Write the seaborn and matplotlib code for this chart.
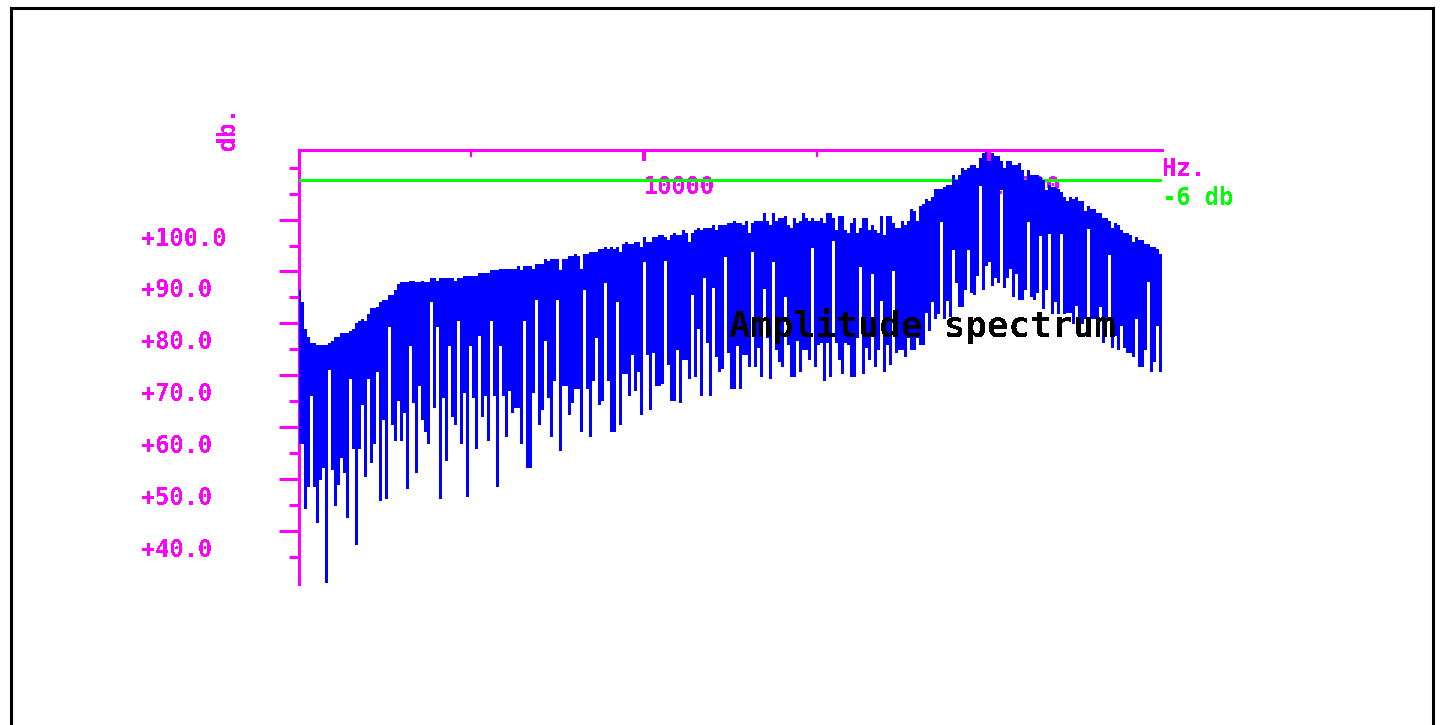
import numpy as np
import matplotlib
matplotlib.use("Agg")
import matplotlib.pyplot as plt
import matplotlib.transforms as mtransforms
from matplotlib.lines import Line2D
import seaborn as sns

# Amplitude spectrum, 0 .. 25 kHz in 288 bins: highest and lowest level (dB) in each bin
peak_db = [
    86.5, 84.2, 79.0, 77.3, 76.3, 76.3, 75.9, 75.9, 75.9, 75.9, 76.3, 76.7,
    77.3, 77.3, 78.2, 78.2, 78.2, 78.6, 79.0, 80.0, 80.5, 80.9, 80.5, 81.9,
    82.9, 82.9, 83.2, 84.2, 84.6, 84.6, 85.5, 85.5, 86.5, 87.5, 87.9, 87.9,
    87.9, 88.2, 88.2, 87.9, 87.9, 88.2, 87.9, 87.9, 88.8, 88.8, 88.2, 88.8,
    88.8, 88.8, 88.8, 88.8, 88.2, 88.8, 88.8, 89.2, 89.2, 89.2, 89.2, 89.2,
    89.8, 89.8, 89.8, 89.8, 90.2, 90.2, 90.2, 90.5, 90.5, 90.5, 90.5, 90.5,
    90.5, 91.1, 90.2, 91.1, 91.1, 91.1, 90.5, 91.5, 91.5, 91.5, 92.5, 92.1,
    92.5, 92.5, 92.5, 90.2, 92.5, 92.5, 92.9, 92.9, 93.4, 92.9, 90.5, 93.4,
    93.4, 93.8, 93.8, 93.8, 94.4, 94.4, 94.8, 94.4, 94.8, 94.4, 94.8, 93.8,
    95.2, 95.7, 95.2, 95.2, 95.7, 95.7, 94.8, 96.7, 95.7, 95.7, 96.7, 96.7,
    97.1, 97.1, 96.7, 96.1, 97.1, 97.5, 97.1, 97.1, 98.0, 97.5, 95.7, 97.5,
    98.0, 98.4, 98.0, 98.4, 98.4, 98.4, 99.0, 98.0, 99.0, 99.0, 99.0, 99.4,
    99.4, 99.8, 99.4, 99.4, 99.0, 99.8, 97.5, 99.4, 99.8, 99.8, 99.8, 101.3,
    99.8, 99.0, 101.3, 99.8, 100.4, 100.4, 100.7, 99.0, 98.4, 100.4, 99.4, 99.8,
    101.3, 100.4, 99.8, 100.4, 99.8, 99.8, 100.4, 99.4, 101.3, 101.3, 100.4, 98.0,
    100.7, 100.7, 98.0, 97.5, 99.4, 100.4, 97.5, 98.4, 100.4, 100.4, 98.0, 99.0,
    98.0, 97.5, 100.7, 97.1, 100.7, 100.7, 99.4, 98.4, 98.4, 99.8, 99.0, 99.8,
    102.1, 101.7, 99.8, 102.7, 103.0, 104.0, 103.6, 104.4, 105.9, 105.9, 105.9, 106.3,
    106.7, 106.7, 108.6, 107.7, 108.6, 110.0, 109.6, 110.0, 110.5, 110.5, 110.0, 111.9,
    112.9, 113.0, 113.6, 112.9, 112.3, 112.3, 111.3, 110.0, 111.3, 111.3, 110.5, 110.5,
    110.9, 109.6, 107.7, 109.6, 108.6, 108.6, 108.6, 108.2, 107.7, 105.7, 106.7, 106.3,
    106.3, 105.9, 105.4, 104.4, 103.6, 104.4, 104.0, 104.4, 103.6, 103.6, 101.7, 102.7,
    102.1, 102.1, 101.3, 101.3, 100.4, 100.4, 99.8, 98.4, 99.4, 99.0, 98.0, 97.5,
    97.5, 97.1, 95.7, 96.7, 96.1, 96.1, 95.2, 95.2, 94.8, 94.8, 94.4, 93.4,
]

floor_db = [
    56.8, 56.8, 44.3, 48.5, 66.0, 48.5, 41.6, 49.9, 52.1, 30.0, 71.1, 51.8,
    44.8, 48.9, 54.1, 51.2, 42.5, 69.3, 55.9, 37.3, 55.9, 64.3, 50.4, 69.3,
    53.1, 56.8, 70.6, 45.8, 61.4, 46.2, 79.4, 60.4, 57.3, 65.0, 57.3, 62.7,
    48.1, 75.7, 64.6, 51.2, 67.9, 61.4, 59.1, 56.8, 84.1, 63.7, 79.4, 46.2,
    65.6, 53.5, 75.7, 62.0, 60.4, 80.4, 56.8, 66.6, 46.6, 75.7, 65.6, 55.8,
    77.5, 62.0, 66.0, 57.3, 80.4, 66.0, 48.5, 75.7, 66.0, 58.1, 67.0, 62.7,
    63.7, 63.7, 56.8, 80.4, 52.1, 52.1, 66.6, 84.5, 60.4, 63.3, 76.6, 65.6,
    58.1, 68.9, 84.5, 55.4, 67.9, 67.9, 62.3, 64.6, 67.3, 67.3, 59.1, 86.4,
    67.3, 58.1, 68.9, 77.1, 64.3, 65.0, 87.7, 68.9, 59.1, 59.1, 84.1, 60.4,
    70.2, 70.2, 66.0, 73.9, 67.0, 70.6, 62.3, 91.9, 73.9, 63.3, 74.3, 67.9,
    67.9, 68.3, 92.0, 72.0, 65.0, 65.0, 74.8, 64.6, 72.9, 72.9, 69.3, 85.4,
    69.6, 78.9, 66.0, 88.7, 76.2, 66.0, 86.8, 73.5, 70.6, 71.2, 92.7, 74.3,
    67.3, 67.3, 75.7, 67.3, 73.9, 73.9, 71.6, 93.7, 71.6, 75.2, 69.6, 86.7,
    77.1, 69.3, 91.9, 74.8, 72.5, 71.6, 85.0, 75.8, 69.6, 69.6, 76.6, 70.6,
    74.8, 74.8, 72.9, 94.6, 71.6, 75.8, 76.2, 68.9, 76.2, 69.6, 95.9, 76.2,
    72.9, 70.2, 76.2, 75.8, 69.6, 69.6, 77.1, 90.9, 70.2, 75.2, 72.9, 89.6,
    71.6, 74.8, 84.4, 70.6, 75.8, 72.0, 90.0, 74.3, 74.8, 74.8, 73.5, 77.1,
    74.8, 74.8, 77.1, 75.8, 75.8, 82.1, 78.5, 84.1, 80.8, 81.8, 99.6, 80.8,
    84.4, 81.2, 94.2, 87.7, 83.1, 83.1, 86.4, 94.2, 85.8, 85.4, 89.1, 106.5,
    86.4, 91.0, 91.9, 87.3, 88.7, 87.7, 105.7, 86.8, 88.7, 90.4, 85.0, 89.6,
    84.5, 84.5, 86.4, 99.6, 85.0, 84.5, 85.8, 96.9, 82.7, 86.4, 97.3, 81.8,
    84.1, 81.8, 97.3, 81.8, 82.1, 82.1, 79.8, 83.3, 79.8, 79.8, 80.8, 98.2,
    80.8, 80.8, 79.8, 83.1, 76.2, 80.8, 93.2, 75.2, 77.5, 74.8, 79.5, 75.2,
    74.3, 74.3, 73.5, 80.8, 71.6, 71.6, 74.8, 88.0, 70.6, 72.5, 79.5, 70.6,
]

f_max_hz = 25000
y_range_db = (29.8, 113.5)
major_db = [40, 50, 60, 70, 80, 90, 100]
minor_db = [35, 45, 55, 65, 75, 85, 95, 105, 110]
x_major_hz = [10000, 20000]
x_minor_hz = [5000, 15000]
x_labels = ["10000", "20000"]
drop_db = 6

MAGENTA = "#ff00ff"
GREEN = "#00ff00"
BLUE = "#0000ff"

sns.set_theme(style="white")
plt.rcParams["font.family"] = ["DejaVu Sans Mono", "DejaVu Sans"]
plt.rcParams["text.antialiased"] = False

W, H = 1443, 725
fig = plt.figure(figsize=(W / 100, H / 100), dpi=100)
fig.patch.set_facecolor("white")

def px(x, y):
    return x / W, 1 - y / H

ax = fig.add_axes([298.5 / W, 1 - 584 / H, (1162 - 298.5) / W, (584 - 149.5) / H])
ax.set_facecolor("white")

n = len(peak_db)
bin_hz = f_max_hz / n
centers = (np.arange(n) + 0.5) * bin_hz
peak = np.asarray(peak_db)
floor = np.asarray(floor_db)

# -6 dB reference below the spectral maximum
ref_db = peak.max() - drop_db
sns.lineplot(x=[0, f_max_hz], y=[ref_db, ref_db], color=GREEN, linewidth=2.2,
             ax=ax, zorder=2, legend=False)

# spectrum bars span from the lowest to the highest level in each bin
ax.bar(centers, peak - floor, bottom=floor, width=bin_hz, color=BLUE,
       linewidth=0, zorder=3, antialiased=False)

ax.set_xlim(0, f_max_hz)
ax.set_ylim(*y_range_db)

for s in ["right", "bottom"]:
    ax.spines[s].set_visible(False)
for s in ["left", "top"]:
    ax.spines[s].set_color(MAGENTA)
    ax.spines[s].set_linewidth(2.2)
    ax.spines[s].set_zorder(1)

ax.xaxis.tick_top()
ax.set_xticks(x_major_hz)
ax.set_xticks(x_minor_hz, minor=True)
ax.tick_params(axis="x", which="major", direction="in", length=8, width=2.9,
               color=MAGENTA, top=True, bottom=False, labeltop=False, labelbottom=False)
ax.tick_params(axis="x", which="minor", direction="in", length=5, width=1.6,
               color=MAGENTA, top=True, bottom=False)
ax.xaxis.set_zorder(4)

ax.set_yticks(major_db)
ax.set_yticks(minor_db, minor=True)
ax.tick_params(axis="y", which="major", direction="out", length=14.4, width=2.2,
               color=MAGENTA, left=True, labelleft=False)
ax.tick_params(axis="y", which="minor", direction="out", length=7.2, width=2.2,
               color=MAGENTA, left=True)
ax.grid(False)

label_kw = dict(fontsize=17, fontweight="bold")

# y labels hang just below their tick, left aligned in a column
ylab_tr = (mtransforms.blended_transform_factory(fig.transFigure, ax.transData)
           + mtransforms.ScaledTranslation(0, -26 / 100, fig.dpi_scale_trans))
for v in major_db:
    ax.text(141 / W, v, f"{v:+.1f}", transform=ylab_tr, ha="left", va="baseline",
            color=MAGENTA, clip_on=False, **label_kw)

# x labels start at their tick, below the top axis line
xlab_tr = (mtransforms.blended_transform_factory(ax.transData, ax.transAxes)
           + mtransforms.ScaledTranslation(0, -44 / 100, fig.dpi_scale_trans))
for v, s in zip(x_major_hz, x_labels):
    ax.text(v, 1, s, transform=xlab_tr, ha="left", va="baseline",
            color=MAGENTA, zorder=1, **label_kw)

unit_tr = (mtransforms.blended_transform_factory(ax.transAxes, ax.transAxes)
           + mtransforms.ScaledTranslation(0, -26 / 100, fig.dpi_scale_trans))
ax.text(1.0, 1.0, "Hz.", transform=unit_tr, ha="left", va="baseline",
        color=MAGENTA, clip_on=False, **label_kw)

ref_tr = (mtransforms.blended_transform_factory(ax.transAxes, ax.transData)
          + mtransforms.ScaledTranslation(0, -25 / 100, fig.dpi_scale_trans))
ax.text(1.0, ref_db, "-6 db", transform=ref_tr, ha="left", va="baseline",
        color=GREEN, clip_on=False, **label_kw)

fig.text(*px(228, 150), "db.", rotation=90, ha="center", va="bottom",
         color=MAGENTA, **label_kw)

fig.text(*px(729, 337), "Amplitude spectrum", ha="left", va="baseline",
         color="black", fontsize=25.7, fontweight="bold", zorder=5)

# window frame
frame_kw = dict(color="black", linewidth=2.2, transform=fig.transFigure,
                solid_capstyle="projecting")
fig.add_artist(Line2D([10.5 / W, 10.5 / W], [-0.02, 1 - 7.5 / H], **frame_kw))
fig.add_artist(Line2D([10.5 / W, 1432.5 / W], [1 - 7.5 / H, 1 - 7.5 / H], **frame_kw))
fig.add_artist(Line2D([1432.5 / W, 1432.5 / W], [-0.02, 1 - 7.5 / H], **frame_kw))

fig.savefig("out.png", dpi=100, facecolor="white")
